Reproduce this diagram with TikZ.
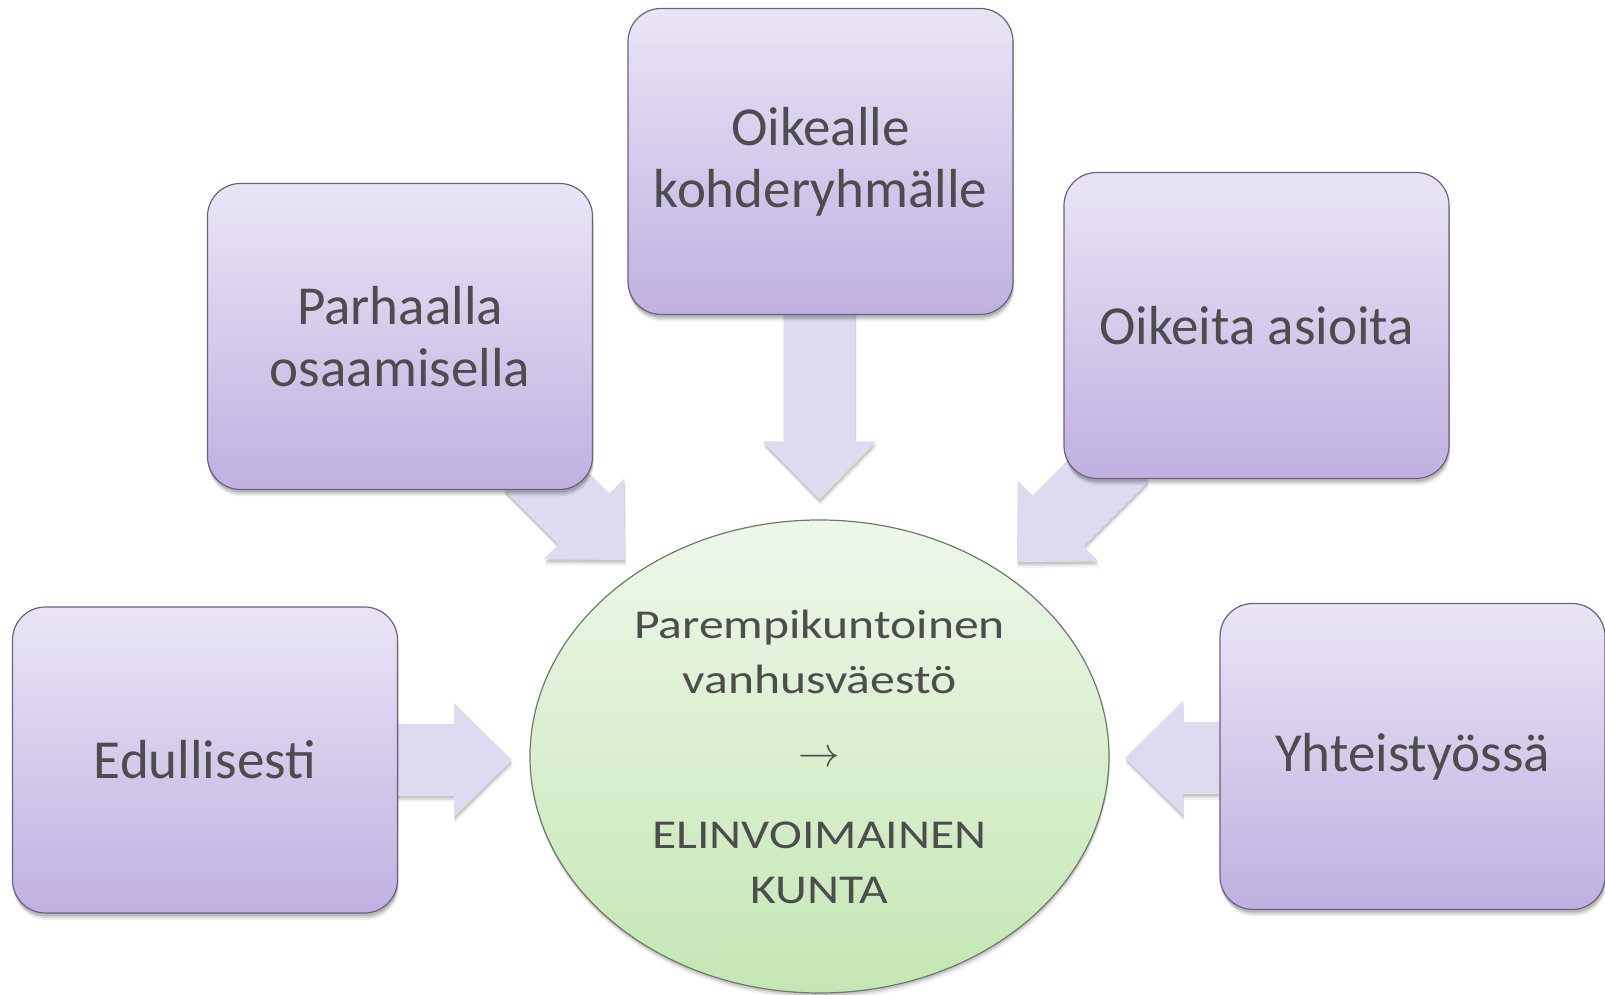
\documentclass[tikz,border=0pt]{standalone}
\usepackage{fontspec}
\setmainfont{Carlito}
\newfontfamily\widefont{Carlito}[FakeStretch=1.21]
\usetikzlibrary{shapes.geometric,shadows,calc}
\definecolor{boxtop}{HTML}{EAE5F5}
\definecolor{boxbot}{HTML}{BFB0E1}
\definecolor{boxline}{HTML}{6A6282}
\definecolor{elltop}{HTML}{EEF7EA}
\definecolor{ellbot}{HTML}{C3E7B3}
\definecolor{ellline}{HTML}{6E7A68}
\definecolor{arrfill}{HTML}{DEDAF0}
\definecolor{txt}{HTML}{4D4D4D}
\pgfdeclarelayer{back}
\pgfsetlayers{back,main}
\newcommand\blockarrow[3]{%
  \begin{scope}[shift={(#1)},rotate=#2]
    \fill[arrowshape] (0,0) -- (-58,57) -- (-58,36) -- (-#3,36) -- (-#3,-36)
      -- (-58,-36) -- (-58,-57) -- cycle;
  \end{scope}}
\begin{document}
\begin{tikzpicture}[x=0.5pt,y=0.5pt,
  softshadow/.style={
    general shadow={fill=black, opacity=0.06, shadow xshift=0.6pt, shadow yshift=-3.5pt},
    general shadow={fill=black, opacity=0.10, shadow xshift=0.5pt, shadow yshift=-2.6pt},
    general shadow={fill=black, opacity=0.14, shadow xshift=0.3pt, shadow yshift=-1.6pt}},
  lightshadow/.style={
    general shadow={fill=black, opacity=0.05, shadow xshift=0.5pt, shadow yshift=-3pt},
    general shadow={fill=black, opacity=0.08, shadow xshift=0.3pt, shadow yshift=-2pt},
    general shadow={fill=black, opacity=0.10, shadow xshift=0.2pt, shadow yshift=-1.2pt}},
  box/.style={rectangle, rounded corners=16.5pt, minimum width=192.5pt,
    minimum height=153pt, inner sep=0pt, draw=boxline, line width=0.6pt,
    top color=boxtop, bottom color=boxbot, text=txt, align=center,
    font=\fontsize{27.5}{31}\selectfont, softshadow},
  ell/.style={ellipse, minimum width=289.5pt, minimum height=236.5pt,
    inner sep=0pt, draw=ellline, line width=0.6pt,
    top color=elltop, bottom color=ellbot, text=txt, align=center,
    font=\widefont\fontsize{20.5}{27.5}\selectfont, lightshadow},
  arrowshape/.style={fill=arrfill, lightshadow}]
\useasboundingbox (0,0) rectangle (1605,995);
\begin{pgfonlayer}{back}
  \fill[white] (0,0) rectangle (1605,995);
\end{pgfonlayer}

\node[box] (top) at (820.5,833.5) {Oikealle\\kohderyhmälle};
\node[box] (ul) at (400,658.5) {Parhaalla\\osaamisella};
\node[box] (ur) at (1256.5,669.5) {Oikeita asioita};
\node[box] (lt) at (205,235) {Edullisesti};
\node[box] (rt) at (1412.5,238.5) {Yhteistyössä};
\node[ell] (c) at (819.5,238.5) {Parempikuntoinen\\vanhusväestö\\[9pt]$\rightarrow$\\[13.5pt]ELINVOIMAINEN\\KUNTA};

\coordinate (tipT) at ($(c.north)+(0,20)$);
\coordinate (tipUL) at (625,435);
\coordinate (tipUR) at (1017,433);
\coordinate (tipL) at (512,235);
\coordinate (tipR) at (1125,237);

\begin{pgfonlayer}{back}
  \blockarrow{tipT}{-90}{200}
  \blockarrow{tipUL}{-45}{135}
  \blockarrow{tipUR}{-135}{150}
  \blockarrow{tipL}{0}{130}
  \blockarrow{tipR}{180}{110}
\end{pgfonlayer}
\end{tikzpicture}
\end{document}
